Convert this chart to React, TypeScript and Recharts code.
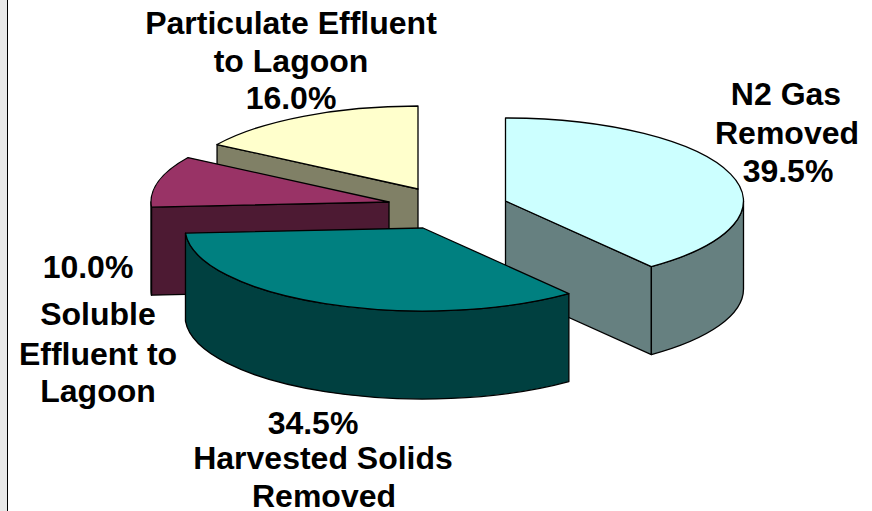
import React from 'react';
import { PieChart, Pie } from 'recharts';

// Shares of the nitrogen balance
const names = ['N2 Gas Removed', 'Particulate Effluent to Lagoon', 'Soluble Effluent to Lagoon', 'Harvested Solids Removed'];
const shares = [39.5, 16.0, 10.0, 34.5];

const topColors = ['#CCFFFF', '#FFFFCC', '#993366', '#008080'];
const sideColors = ['#668080', '#808066', '#4D1A33', '#004040'];

// Explode offset of each slice from the pie centre
const offsetX = [68.5, -19, -48, -14];
const offsetY = [-3, -15, -2, 24];

const labelLines = [
  ['N2 Gas', 'Removed', '{v}'],
  ['Particulate Effluent', 'to Lagoon', '{v}'],
  ['{v}', 'Soluble', 'Effluent to', 'Lagoon'],
  ['{v}', 'Harvested Solids', 'Removed'],
];
const labelX = [
  [786, 787, 788],
  [291, 291, 291],
  [88, 98, 98, 98],
  [313, 323, 324],
];
const labelY = [
  [105, 144, 182],
  [34, 72, 109],
  [278, 325, 365, 402],
  [434, 469, 507],
];

const data = names.map((name, i) => ({ name, value: shares[i] }));

const TILT = 83 / 238;
const DEPTH = 88;
const RAD = Math.PI / 180;
const FONT = 32;

const Slice3D = (props: any) => {
  const { cx, cy, outerRadius, startAngle, endAngle, index } = props;
  const a0 = Math.min(startAngle, endAngle);
  const a1 = Math.max(startAngle, endAngle);
  const x0 = cx + offsetX[index];
  const y0 = cy + offsetY[index];
  const rx = outerRadius;
  const ry = outerRadius * TILT;
  const px = (a: number) => x0 + rx * Math.cos(a * RAD);
  const py = (a: number) => y0 - ry * Math.sin(a * RAD);
  const side = sideColors[index];
  const line = { stroke: '#000', strokeWidth: 1.3, strokeLinejoin: 'round' as const };

  const wall = (a: number, key: string) => (
    <path
      key={key}
      d={`M${x0},${y0} L${px(a)},${py(a)} L${px(a)},${py(a) + DEPTH} L${x0},${y0 + DEPTH} Z`}
      fill={side}
      {...line}
    />
  );

  const rims: React.ReactNode[] = [];
  [[-180, 0], [180, 360]].forEach(([lo, hi]) => {
    const from = Math.max(a0, lo);
    const to = Math.min(a1, hi);
    if (to <= from + 0.01) return;
    const large = to - from > 180 ? 1 : 0;
    rims.push(
      <path
        key={`rim${lo}`}
        d={`M${px(from)},${py(from)} A${rx},${ry} 0 ${large} 0 ${px(to)},${py(to)} L${px(to)},${py(to) + DEPTH} A${rx},${ry} 0 ${large} 1 ${px(from)},${py(from) + DEPTH} Z`}
        fill={side}
        {...line}
      />
    );
  });

  return (
    <g>
      {Math.cos(a0 * RAD) > 0.01 && wall(a0, 'w0')}
      {Math.cos(a1 * RAD) < -0.01 && wall(a1, 'w1')}
      {rims}
      <path
        d={`M${x0},${y0} L${px(a0)},${py(a0)} A${rx},${ry} 0 0 0 ${px(a1)},${py(a1)} Z`}
        fill={topColors[index]}
        {...line}
      />
    </g>
  );
};

const renderLabel = (props: any) => {
  const { index } = props;
  const text = `${shares[index].toFixed(1)}%`;
  return (
    <g key={index}>
      {labelLines[index].map((l, j) => (
        <text
          key={j}
          x={labelX[index][j]}
          y={labelY[index][j]}
          textAnchor="middle"
          fontFamily="Liberation Sans"
          fontWeight="bold"
          fontSize={FONT}
          fill="#000"
        >
          {l === '{v}' ? text : l}
        </text>
      ))}
    </g>
  );
};

// Start at the edge of the first slice so it paints behind the harvested solids slice
const total = shares.reduce((s, v) => s + v, 0);
const start = 90 - (360 * shares[0]) / total;

export default function App() {
  return (
    <div style={{ position: 'absolute', left: 0, top: 0, width: 872, height: 511, background: '#fff', overflow: 'hidden' }}>
      <div style={{ position: 'absolute', left: 0, top: 0, width: 7, height: 511, background: '#e8e8e8' }} />
      <div style={{ position: 'absolute', left: 7, top: 0, width: 1, height: 511, background: '#000' }} />
      <PieChart width={872} height={511} margin={{ top: 0, right: 0, bottom: 0, left: 0 }} style={{ position: 'absolute', left: 0, top: 0 }}>
        <Pie
          data={data}
          dataKey="value"
          nameKey="name"
          cx={437}
          cy={204}
          innerRadius={0}
          outerRadius={238}
          startAngle={start}
          endAngle={start + 360}
          shape={Slice3D}
          label={renderLabel}
          labelLine={false}
          isAnimationActive={false}
        />
      </PieChart>
    </div>
  );
}
